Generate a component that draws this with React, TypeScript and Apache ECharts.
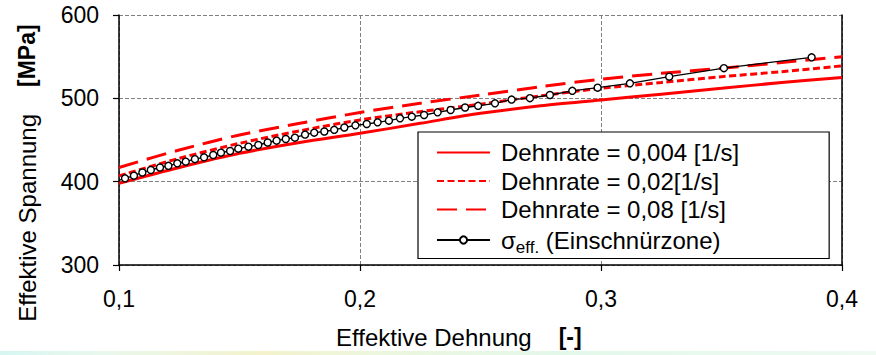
import React, { useEffect, useRef } from 'react';
import * as echarts from 'echarts';

const FONT = '"Liberation Sans", Arial, Helvetica, sans-serif';

// Axis ranges
const strainMin = 0.1;
const strainMax = 0.4;
const strainStep = 0.1;
const stressMin = 300;
const stressMax = 600;
const stressStep = 100;

// Flow curves for three strain rates (effective strain [-] vs. effective stress [MPa])
const rateStrain = [0.1, 0.125, 0.15, 0.175, 0.2, 0.225, 0.25, 0.275, 0.3, 0.325, 0.35, 0.375, 0.4];
const stressRate0004 = [398, 417, 434, 447, 458, 470, 482, 491, 498, 505, 512, 519, 525];
const stressRate002 = [407, 428, 446, 461, 474, 484, 493, 503, 512, 519, 526, 532, 539];
const stressRate008 = [417, 438, 456, 470, 483, 494, 504, 514, 523, 530, 536, 543, 550];

// Effective stress measured in the necking zone
const neckStrain = [
  0.1, 0.1025, 0.1062, 0.1097, 0.1132, 0.117, 0.1205, 0.1242, 0.1277, 0.1315, 0.1353,
  0.1391, 0.1423, 0.1461, 0.1495, 0.1537, 0.1578, 0.1617, 0.1654, 0.1692, 0.173,
  0.1772, 0.181, 0.1852, 0.1893, 0.1935, 0.1981, 0.2028, 0.2073, 0.212, 0.2166,
  0.2215, 0.2266, 0.2322, 0.2376, 0.2436, 0.249, 0.256, 0.2629, 0.2705, 0.2788,
  0.2881, 0.2986, 0.312, 0.3283, 0.351, 0.3874,
];
const neckStress = [
  401.5, 404, 407.2, 411, 414, 417, 419, 422, 424, 427, 429.2,
  432, 434.8, 436.8, 439.6, 442, 444, 447, 449.2, 451.2, 452.8,
  456.5, 458.8, 460.2, 462.2, 465, 467.6, 469.2, 471.2, 473.2, 476,
  478, 480, 483.2, 486, 489, 491, 494, 498.5, 500.2, 504,
  509, 512.8, 518, 526, 536.2, 549.2,
];

const seriesNames = [
  'Dehnrate = 0,004 [1/s]',
  'Dehnrate = 0,02[1/s]',
  'Dehnrate = 0,08 [1/s]',
  'σeff. (Einschnürzone)',
];

const zip = (xs: number[], ys: number[]) => xs.map((x, i) => [x, ys[i]]);

const fmtComma = (v: number) => v.toFixed(1).replace('.', ',');

function buildOption(): echarts.EChartsOption {
  const redLine = (name: string, ys: number[], type: any) => ({
    type: 'line',
    name,
    data: zip(rateStrain, ys),
    symbol: 'none',
    smooth: 0.3,
    lineStyle: { color: '#ff0000', width: 3, type, cap: 'butt' },
    itemStyle: { color: '#ff0000' },
    z: 2,
  });

  const neckData = neckStrain.map((x, i) =>
    i === 0 ? { value: [x, neckStress[i]], symbol: 'none' } : [x, neckStress[i]]
  );

  return {
    animation: false,
    backgroundColor: '#ffffff',
    grid: { left: 119, right: 34, top: 15, bottom: 90, containLabel: false },
    xAxis: {
      type: 'value',
      min: strainMin,
      max: strainMax,
      interval: strainStep,
      axisLine: { show: true, onZero: false, lineStyle: { color: '#000', width: 1.5 } },
      axisTick: { show: true, inside: false, length: 6, lineStyle: { color: '#000', width: 1.2 } },
      axisLabel: {
        margin: 22,
        color: '#000',
        fontFamily: FONT,
        fontSize: 23,
        formatter: (v: number) => fmtComma(v),
      },
      splitLine: { show: true, lineStyle: { color: '#808080', width: 1, type: [4, 2] } },
    },
    yAxis: [
      {
        type: 'value',
        min: stressMin,
        max: stressMax,
        interval: stressStep,
        axisLine: { show: true, onZero: false, lineStyle: { color: '#000', width: 1.5 } },
        axisTick: { show: true, inside: false, length: 6, lineStyle: { color: '#000', width: 1.2 } },
        axisLabel: { margin: 20, color: '#000', fontFamily: FONT, fontSize: 23 },
        splitLine: { show: true, lineStyle: { color: '#808080', width: 1, type: [4, 2] } },
      },
      {
        type: 'value',
        position: 'right',
        min: stressMin,
        max: stressMax,
        interval: stressStep,
        axisLine: { show: true, onZero: false, lineStyle: { color: '#000', width: 1.5 } },
        axisTick: { show: false },
        axisLabel: { show: false },
        splitLine: { show: false },
      },
    ],
    legend: {
      orient: 'vertical',
      left: 418,
      top: 132,
      padding: [7, 90, 3, 18],
      backgroundColor: '#ffffff',
      borderColor: '#000000',
      borderWidth: 1.2,
      borderRadius: 0,
      itemWidth: 53,
      itemHeight: 9,
      itemGap: 1.5,
      selectedMode: false,
      data: [
        { name: seriesNames[0], itemStyle: { opacity: 0 } },
        { name: seriesNames[1], itemStyle: { opacity: 0 } },
        { name: seriesNames[2], itemStyle: { opacity: 0 } },
        { name: seriesNames[3] },
      ],
      formatter: (name: string) =>
        name === seriesNames[3] ? '{sig|σ}{sub|eff.}{txt| (Einschnürzone)}' : name,
      textStyle: {
        color: '#000',
        fontFamily: FONT,
        fontSize: 24,
        lineHeight: 27,
        padding: [0, 0, 0, 6],
        rich: {
          sig: { fontFamily: FONT, fontSize: 24, color: '#000', lineHeight: 27 },
          sub: { fontFamily: FONT, fontSize: 17, color: '#000', lineHeight: 17, padding: [14, 0, 0, 0] },
          txt: { fontFamily: FONT, fontSize: 24, color: '#000', lineHeight: 27 },
        },
      },
    },
    series: [
      redLine(seriesNames[0], stressRate0004, 'solid'),
      redLine(seriesNames[1], stressRate002, [7, 3.5]),
      redLine(seriesNames[2], stressRate008, [20, 9]),
      {
        type: 'line',
        name: seriesNames[3],
        data: neckData as any,
        symbol: 'circle',
        symbolSize: 7,
        showAllSymbol: true,
        lineStyle: { color: '#000', width: 1.3 },
        itemStyle: { color: '#ffffff', borderColor: '#000000', borderWidth: 1.4 },
        z: 3,
      },
    ],
    graphic: [
      {
        type: 'text',
        x: 27,
        y: 173,
        rotation: Math.PI / 2,
        style: {
          text: '{a|Effektive Spannung}{b|[MPa]}',
          align: 'center',
          verticalAlign: 'middle',
          fill: '#000',
          rich: {
            a: { fontFamily: FONT, fontSize: 24, fill: '#000' },
            b: { fontFamily: FONT, fontSize: 23, fontWeight: 'bold', fill: '#000', padding: [0, 0, 0, 27] },
          },
        },
      },
      {
        type: 'text',
        x: 336,
        y: 337,
        style: {
          text: '{a|Effektive Dehnung}{b|[-]}',
          align: 'left',
          verticalAlign: 'middle',
          fill: '#000',
          rich: {
            a: { fontFamily: FONT, fontSize: 24, fill: '#000' },
            b: { fontFamily: FONT, fontSize: 23, fontWeight: 'bold', fill: '#000', padding: [0, 0, 0, 27] },
          },
        },
      },
      {
        type: 'rect',
        shape: { x: 0, y: 351, width: 876, height: 4 },
        silent: true,
        style: {
          fill: new echarts.graphic.LinearGradient(0, 0, 1, 0, [
            { offset: 0, color: '#d6f6f2' },
            { offset: 0.12, color: '#e9f8ec' },
            { offset: 0.3, color: '#f3f2cc' },
            { offset: 0.42, color: '#ecf6dc' },
            { offset: 0.65, color: '#e3f8ea' },
            { offset: 1, color: '#eefaf2' },
          ]),
        },
      },
    ],
  } as echarts.EChartsOption;
}

export default function App() {
  const ref = useRef<HTMLDivElement>(null);

  useEffect(() => {
    if (!ref.current) return;
    const chart = echarts.init(ref.current, undefined, { renderer: 'svg' });
    chart.setOption(buildOption());
    return () => {
      chart.dispose();
    };
  }, []);

  return (
    <div
      ref={ref}
      style={{ position: 'absolute', left: 0, top: 0, width: 876, height: 355, background: '#ffffff' }}
    />
  );
}
